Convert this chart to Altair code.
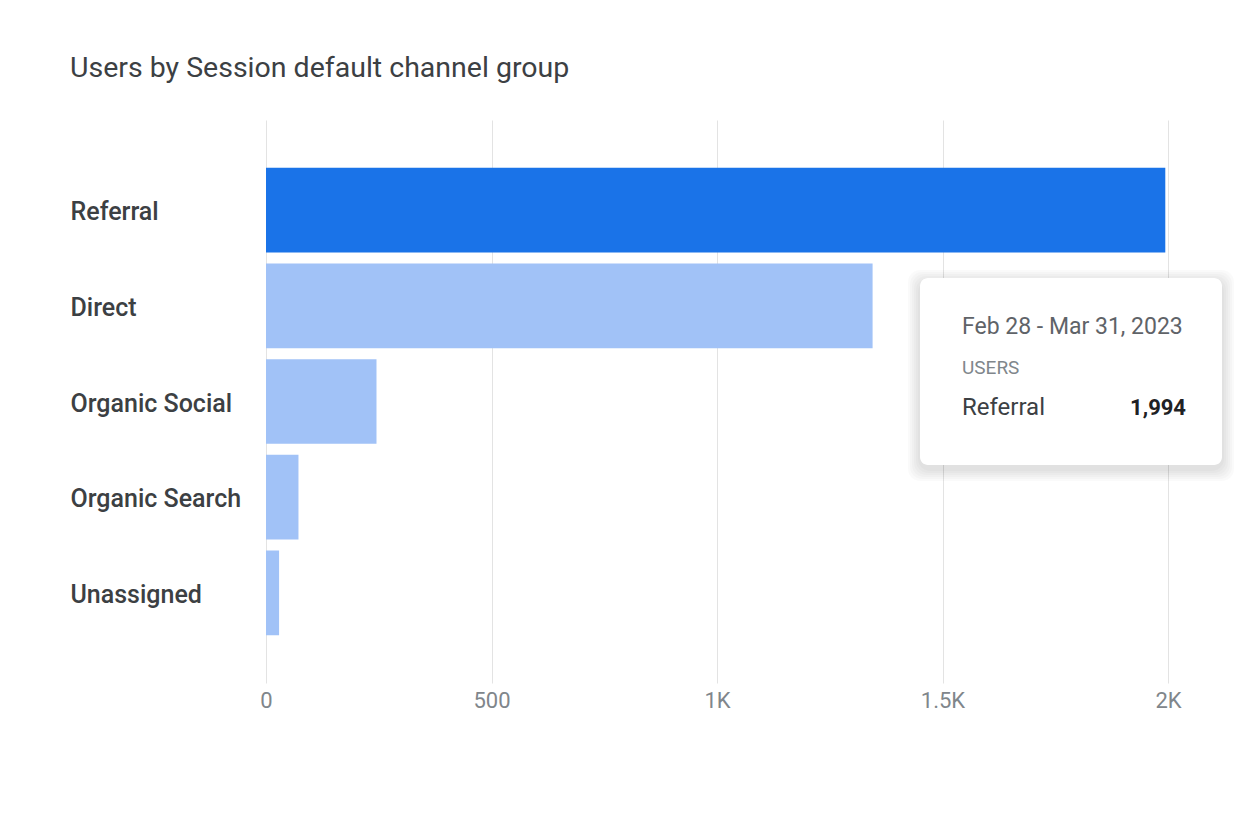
import altair as alt
import pandas as pd

channels = ["Referral", "Direct", "Organic Social", "Organic Search", "Unassigned"]
users = [1994, 1345, 245, 72, 29]
x_ticks = [0, 500, 1000, 1500, 2000]

title_text = "Users by Session default channel group"
tip_date = "Feb 28 - Mar 31, 2023"
tip_metric = "USERS"
tip_label = "Referral"
tip_value = "1,994"

df = pd.DataFrame({"channel": channels, "users": users})
one = pd.DataFrame({"k": [0]})

W, H = 902, 563
FONT = "Roboto"

bars = alt.Chart(df).mark_bar().encode(
    y=alt.Y("channel:N", sort=channels,
            scale=alt.Scale(paddingInner=0.115, paddingOuter=0.5),
            axis=alt.Axis(title=None, domain=False, ticks=False, labelAlign="left",
                          labelPadding=196, labelFontSize=25, labelFont=FONT, labelOffset=2,
                          labelFontWeight=500, labelColor="#3c4043", labelLimit=300)),
    x=alt.X("users:Q", scale=alt.Scale(domain=[0, 2000], nice=False),
            axis=alt.Axis(title=None, values=x_ticks, domain=False, ticks=False,
                          grid=True, gridColor="#e3e3e3", labelPadding=7, labelFlush=False,
                          labelFontSize=22, labelFont=FONT, labelColor="#80868b",
                          labelExpr="datum.value >= 1000 ? format(datum.value/1000, '') + 'K' : datum.value")),
    color=alt.condition(alt.datum.channel == "Referral", alt.value("#1a73e8"), alt.value("#a1c2f7")),
    tooltip=["channel", "users"],
)

# tooltip-like overlay box with soft shadow
bx0, bx1, by0, by1 = 654, 956, 158, 345
shadows = []
for i in range(6):
    d = 12 - i * 2
    shadows.append(alt.Chart(one).mark_rect(cornerRadius=12, color="#000000", opacity=0.018).encode(
        x=alt.value(bx0 - d), x2=alt.value(bx1 + d), y=alt.value(by0 - d + 4), y2=alt.value(by1 + d + 4)))
box = alt.Chart(one).mark_rect(cornerRadius=8, color="#ffffff").encode(
    x=alt.value(bx0), x2=alt.value(bx1), y=alt.value(by0), y2=alt.value(by1))

t1 = alt.Chart(one).mark_text(align="left", baseline="middle", font=FONT, fontSize=23,
                              color="#5f6368", text=tip_date).encode(x=alt.value(696), y=alt.value(207))
t2 = alt.Chart(one).mark_text(align="left", baseline="middle", font=FONT, fontSize=19,
                              color="#80868b", text=tip_metric).encode(x=alt.value(696), y=alt.value(248))
t3 = alt.Chart(one).mark_text(align="left", baseline="middle", font=FONT, fontSize=24,
                              color="#3c4043", text=tip_label).encode(x=alt.value(696), y=alt.value(288))
t4 = alt.Chart(one).mark_text(align="right", baseline="middle", font=FONT, fontSize=22,
                              fontWeight="bold", color="#202124", text=tip_value).encode(x=alt.value(920), y=alt.value(288))

chart = alt.layer(bars, *shadows, box, t1, t2, t3, t4).properties(
    width=W, height=H,
    autosize=alt.AutoSizeParams(type="none"),
    padding={"left": 258, "top": 112, "right": 80, "bottom": 100},
    title=alt.TitleParams(title_text, anchor="start", frame="group", dx=-196, offset=38,
                          font=FONT, fontSize=28.5, fontWeight="normal", color="#3c4043"),
).configure(background="#ffffff", view=alt.ViewConfig(stroke=None))

chart.save("out.html", embed_options={"renderer": "svg", "actions": False})
